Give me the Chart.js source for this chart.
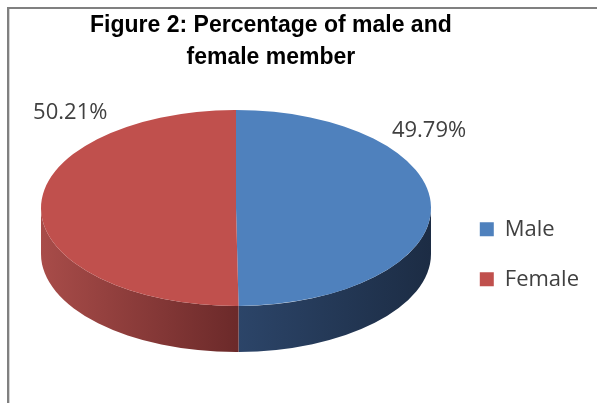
<!DOCTYPE html>
<html>
<head>
<meta charset="utf-8">
<script src="https://cdn.jsdelivr.net/npm/chart.js@4/dist/chart.umd.min.js"></script>
<style>
  html, body { margin: 0; padding: 0; background: #fff; }
  #wrap { position: relative; width: 597px; height: 403px; overflow: hidden; }
  #frame { position: absolute; left: 7px; top: 7px; width: 620px; height: 420px;
           border-left: 2px solid #808080; border-top: 2px solid #808080; box-sizing: border-box; }
  #frame:before { content: ""; position: absolute; left: 0; top: 0; width: 1px; height: 100%; background: #d4d4d4; }
  canvas { position: absolute; left: 0; top: 0; }
</style>
</head>
<body>
<div id="wrap">
  <div id="frame"></div>
  <canvas id="c" width="597" height="403"></canvas>
</div>
<script>
// ---- data ----
const categories = ['Male', 'Female'];
const values = [49.79, 50.21];
const valueLabels = ['49.79%', '50.21%'];
const titleLines = ['Figure 2: Percentage of male and', 'female member'];

// ---- styles ----
const topColors = ['#4f81bd', '#c0504d'];
const sideColors = [['#2c4569', '#1c2c44'], ['#6c2a2a', '#a84c49']];

const pie3d = {
  id: 'pie3d',
  geom(chart) {
    const o = chart.options.plugins.pie3d;
    return { cx: o.cx, cy: o.cy, rx: o.rx, ry: o.ry, d: o.depth };
  },
  beforeDatasetsDraw(chart) {
    const ctx = chart.ctx;
    const g = this.geom(chart);
    const meta = chart.getDatasetMeta(0);
    // sides (front half only: canvas angles 0..PI)
    meta.data.forEach((arc, i) => {
      const s = arc.startAngle, e = arc.endAngle;
      [-2 * Math.PI, 0, 2 * Math.PI].forEach(k => {
        const a1 = Math.max(s + k, 0), a2 = Math.min(e + k, Math.PI);
        if (a2 <= a1) return;
        ctx.save();
        const grad = ctx.createLinearGradient(g.cx - g.rx, 0, g.cx + g.rx, 0);
        if (i === 0) {
          grad.addColorStop(0.5, sideColors[0][0]);
          grad.addColorStop(1, sideColors[0][1]);
        } else {
          grad.addColorStop(0, sideColors[1][1]);
          grad.addColorStop(0.5, sideColors[1][0]);
        }
        ctx.fillStyle = grad;
        ctx.beginPath();
        ctx.ellipse(g.cx, g.cy, g.rx, g.ry, 0, a1, a2, false);
        ctx.ellipse(g.cx, g.cy + g.d, g.rx, g.ry, 0, a2, a1, true);
        ctx.closePath();
        ctx.fill();
        ctx.restore();
      });
    });
    // squash the library-drawn arcs into the top ellipse
    const arc0 = meta.data[0];
    const r = arc0.outerRadius;
    ctx.save();
    ctx.translate(g.cx, g.cy);
    ctx.scale(g.rx / r, g.ry / r);
    ctx.translate(-arc0.x, -arc0.y);
  },
  afterDatasetsDraw(chart) {
    const ctx = chart.ctx;
    ctx.restore();
    const g = this.geom(chart);
    const o = chart.options.plugins.pie3d;
    ctx.save();
    ctx.font = o.labelFont;
    ctx.fillStyle = o.labelColor;
    ctx.textAlign = 'center';
    ctx.textBaseline = 'middle';
    valueLabels.forEach((t, i) => {
      const off = o.labelOffsets[i];
      ctx.fillText(t, g.cx + off[0] * g.rx, g.cy + off[1] * g.ry);
    });
    ctx.restore();
  }
};

new Chart(document.getElementById('c'), {
  type: 'pie',
  data: {
    labels: categories,
    datasets: [{
      data: values,
      backgroundColor: topColors,
      borderWidth: 0
    }]
  },
  plugins: [pie3d],
  options: {
    responsive: false,
    animation: false,
    events: [],
    layout: { padding: { left: 90, right: 8, top: 0, bottom: 0 } },
    plugins: {
      pie3d: {
        cx: 236, cy: 208, rx: 195, ry: 98, depth: 46,
        labelFont: '22px "Open Sans"',
        labelColor: '#404040',
        labelOffsets: [[0.99, -0.79], [-0.85, -0.97]]
      },
      tooltip: { enabled: false },
      title: {
        display: true,
        text: titleLines,
        fullSize: false,
        color: '#000',
        font: { family: '"Liberation Sans", Arial, sans-serif', size: 23, weight: 'bold', lineHeight: 1.38 },
        padding: { top: 10, bottom: 32 }
      },
      legend: {
        position: 'right',
        fullSize: false,
        labels: {
          boxWidth: 14,
          boxHeight: 14,
          padding: 28,
          color: '#404040',
          font: { family: '"Open Sans"', size: 22 }
        }
      }
    }
  }
});
</script>
</body>
</html>
